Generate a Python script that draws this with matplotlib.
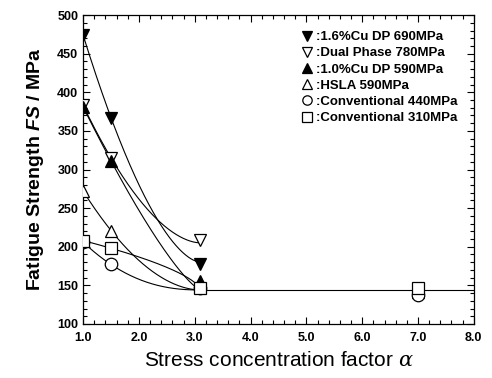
import numpy as np
import matplotlib
matplotlib.use("Agg")
import matplotlib.pyplot as plt
from matplotlib.ticker import MultipleLocator, FormatStrFormatter

plt.rcParams['font.family'] = ['Liberation Sans', 'DejaVu Sans']
plt.rcParams['mathtext.fontset'] = 'custom'
plt.rcParams['mathtext.it'] = 'Liberation Sans:italic:bold'
plt.rcParams['mathtext.rm'] = 'DejaVu Serif:italic'

labels = ["1.6%Cu DP 690MPa", "Dual Phase 780MPa", "1.0%Cu DP 590MPa",
          "HSLA 590MPa", "Conventional 440MPa", "Conventional 310MPa"]
markers = ["v", "v", "^", "^", "o", "s"]
filled = [True, False, True, False, False, False]
x_vals = [1.0, 1.5, 3.1, 7.0]
fs_16cu = [474, 367, 178, None]
fs_dp780 = [383, 315, 209, None]
fs_10cu = [381, 311, 155, None]
fs_hsla = [272, 221, 148, 141]
fs_c440 = [206, 177, 146, 138]
fs_c310 = [208, 198, 147, 147]
series = [fs_16cu, fs_dp780, fs_10cu, fs_hsla, fs_c440, fs_c310]
# curve end levels (fitted trend ends)
curve_end = [180, 205, 144, 144, 144, 144]
plateau = 144

fig = plt.figure(figsize=(4.92, 3.78), dpi=100)
ax = fig.add_axes([0.169, 0.143, 0.794, 0.817])

for s, m, f, lab, ye in zip(series, markers, filled, labels, curve_end):
    xs = [x for x, v in zip(x_vals, s) if v is not None]
    ys = [v for v in s if v is not None]
    x0, xm, xe = xs[0], xs[1], xs[2]
    p = np.log((ys[0] - ye) / (ys[1] - ye)) / np.log((xe - x0) / (xe - xm))
    xc = np.linspace(x0, xe, 200)
    yc = ye + (ys[0] - ye) * ((xe - xc) / (xe - x0)) ** p
    ax.plot(xc, yc, color='black', lw=0.8, zorder=2)
    ax.plot(xs, ys, linestyle='none', marker=m, ms=9,
            markerfacecolor='black' if f else 'white', markeredgecolor='black',
            markeredgewidth=0.9, label=':' + lab, zorder=3)

ax.plot([3.1, 8.0], [plateau, plateau], color='black', lw=0.8, zorder=2)

ax.set_xlim(1.0, 8.0)
ax.set_ylim(100, 500)
ax.xaxis.set_major_locator(MultipleLocator(1.0))
ax.xaxis.set_minor_locator(MultipleLocator(0.2))
ax.yaxis.set_major_locator(MultipleLocator(50))
ax.yaxis.set_minor_locator(MultipleLocator(10))
ax.xaxis.set_major_formatter(FormatStrFormatter('%.1f'))
ax.tick_params(which='both', direction='in', top=True, right=True, labelsize=9, width=0.8)
ax.tick_params(which='major', length=5)
ax.tick_params(which='minor', length=3)
ax.tick_params(axis='x', pad=6)
for t in ax.get_xticklabels() + ax.get_yticklabels():
    t.set_fontweight('bold')
for sp in ax.spines.values():
    sp.set_linewidth(0.9)

ax.set_xlabel(r'Stress concentration factor $\mathrm{\alpha}$', fontsize=15, labelpad=5)
ax.set_ylabel(r'Fatigue Strength $FS$ / MPa', fontsize=14, fontweight='bold', labelpad=8)

leg = ax.legend(loc='upper right', frameon=False, handletextpad=0.2,
                labelspacing=0.3, borderaxespad=0.8, handlelength=1.0,
                markerscale=0.75, prop={'weight': 'bold', 'size': 9.5})

fig.savefig('out.png', dpi=100)
